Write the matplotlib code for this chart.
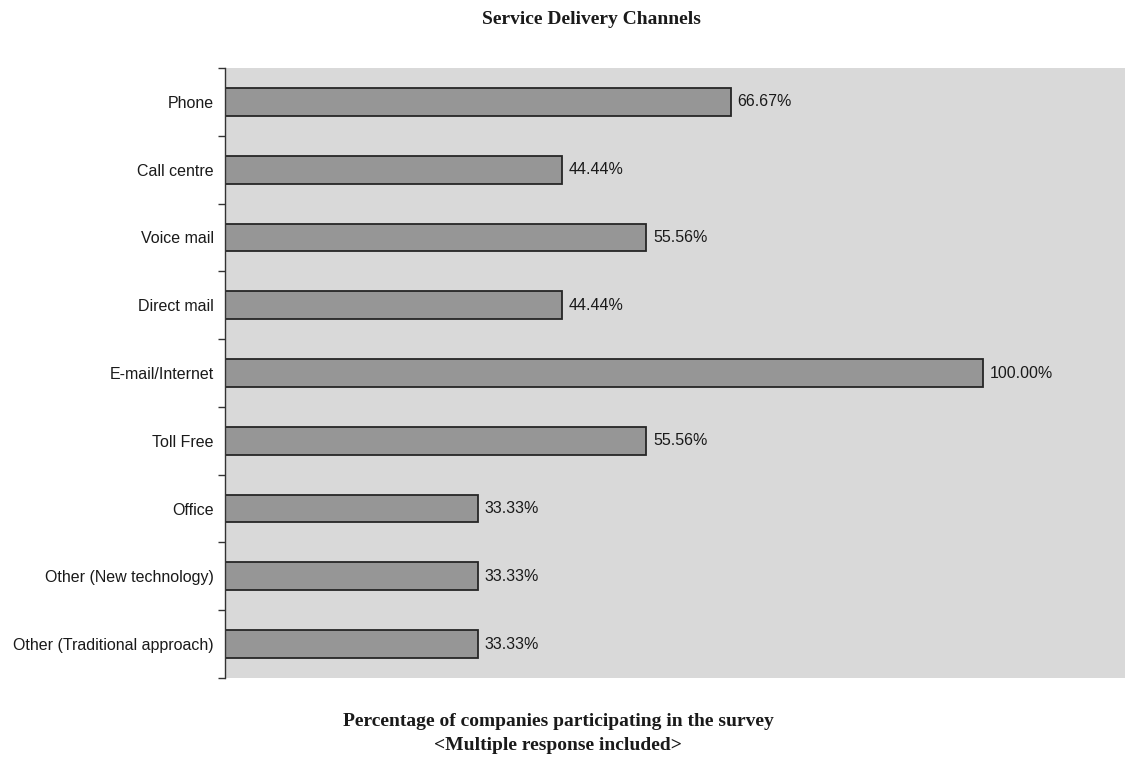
import matplotlib
matplotlib.use("Agg")
import matplotlib.pyplot as plt
from matplotlib.ticker import FixedLocator, NullFormatter

categories = ["Phone", "Call centre", "Voice mail", "Direct mail", "E-mail/Internet",
              "Toll Free", "Office", "Other (New technology)", "Other (Traditional approach)"]
values = [66.67, 44.44, 55.56, 44.44, 100.00, 55.56, 33.33, 33.33, 33.33]
value_labels = ["66.67%", "44.44%", "55.56%", "44.44%", "100.00%", "55.56%", "33.33%", "33.33%", "33.33%"]

plt.rcParams['font.family'] = ['Liberation Sans', 'DejaVu Sans']

W, H = 1125, 762
fig = plt.figure(figsize=(W / 100, H / 100), dpi=100)
ax = fig.add_axes([225 / W, 1 - 678 / H, (W - 225) / W, (678 - 68) / H])
ax.set_facecolor("#D9D9D9")

n = len(categories)
ypos = list(range(n))
ax.barh(ypos, values, height=0.41, color="#969696", edgecolor="#262626", linewidth=1.3)
ax.set_ylim(n - 0.5, -0.5)
ax.set_xlim(0, 118.7)

for y, v, lab in zip(ypos, values, value_labels):
    ax.text(v + 0.9, y, lab, va="center", ha="left", fontsize=11.5, color="#1a1a1a")

ax.set_yticks(ypos)
ax.set_yticklabels(categories, fontsize=11.5, color="#1a1a1a")
ax.tick_params(axis="y", which="major", length=0, pad=8)
ax.yaxis.set_minor_locator(FixedLocator([i - 0.5 for i in range(n + 1)]))
ax.yaxis.set_minor_formatter(NullFormatter())
ax.tick_params(axis="y", which="minor", length=5, width=1, color="#333333")
ax.set_xticks([])
for s in ["top", "right", "bottom"]:
    ax.spines[s].set_visible(False)
ax.spines["left"].set_color("#333333")
ax.spines["left"].set_linewidth(1)

serif = ["Liberation Serif", "DejaVu Serif"]
fig.text(591 / W, 1 - 20 / H, "Service Delivery Channels", ha="center", va="center",
         fontsize=14, fontweight="bold", family=serif, color="#1a1a1a")
fig.text(558 / W, 1 - 722 / H, "Percentage of companies participating in the survey",
         ha="center", va="center", fontsize=14, fontweight="bold", family=serif, color="#1a1a1a")
fig.text(558 / W, 1 - 745 / H, "<Multiple response included>",
         ha="center", va="center", fontsize=14, fontweight="bold", family=serif, color="#1a1a1a")

fig.savefig("out.png", dpi=100)
